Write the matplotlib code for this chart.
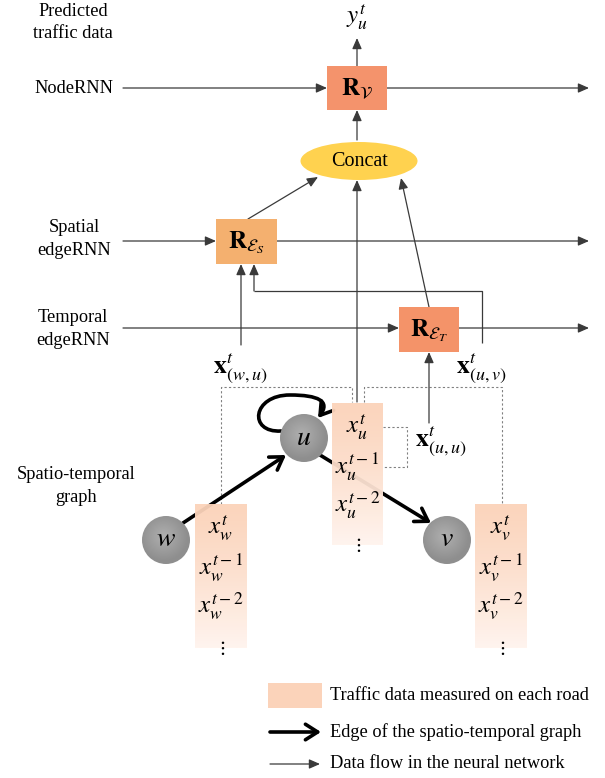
import numpy as np
import matplotlib
matplotlib.use("Agg")
import matplotlib.pyplot as plt
from matplotlib.patches import Rectangle, Ellipse, Circle, FancyArrowPatch
from matplotlib.path import Path

plt.rcParams['font.family'] = ['Liberation Serif', 'DejaVu Serif']
plt.rcParams['mathtext.fontset'] = 'stix'

# ---- content ----
row_labels = [["Predicted", "traffic data"], ["NodeRNN"], ["Spatial", "edgeRNN"],
              ["Temporal", "edgeRNN"], ["Spatio-temporal", "graph"]]
rnn_labels = [r"$\mathbf{R}_{\mathcal{V}}$", r"$\mathbf{R}_{\mathcal{E}_S}$", r"$\mathbf{R}_{\mathcal{E}_T}$"]
concat_label = "Concat"
output_label = r"$y_u^t$"
node_names = ["w", "u", "v"]
history_terms = ["t", "t-1", "t-2"]
edge_feature_labels = [r"$\mathbf{x}_{(w,u)}^{t}$", r"$\mathbf{x}_{(u,v)}^{t}$", r"$\mathbf{x}_{(u,u)}^{t}$"]
legend_labels = ["Traffic data measured on each road", "Edge of the spatio-temporal graph",
                 "Data flow in the neural network"]

# ---- layout / style ----
W, H = 605, 778
fig = plt.figure(figsize=(W / 100, H / 100), dpi=100)
ax = fig.add_axes([0, 0, 1, 1])
ax.set_xlim(0, W)
ax.set_ylim(H, 0)
ax.axis('off')

LC = '#3a3a3a'
FS = 13.2
c_node = '#F4936C'
c_sp = '#F4B06F'
c_tm = '#F49369'
c_concat = '#FFD24F'
c_data_top = np.array([251, 211, 186]) / 255
c_data_bot = np.array([255, 244, 238]) / 255


def arrow(x0, y0, x1, y1, lw=0.9):
    ax.annotate('', xy=(x1, y1), xytext=(x0, y0),
                arrowprops=dict(arrowstyle='-|>,head_length=0.5,head_width=0.22', lw=lw,
                                color=LC, shrinkA=0, shrinkB=0, mutation_scale=13), zorder=3)


def line(xs, ys, **kw):
    kw.setdefault('color', LC)
    kw.setdefault('lw', 0.9)
    ax.plot(xs, ys, solid_capstyle='butt', **kw)


def dashed(xs, ys):
    ax.plot(xs, ys, color='#808080', lw=0.8, ls=(0, (2, 2)), zorder=1)


def thick(x0, y0, x1, y1):
    ax.annotate('', xy=(x1, y1), xytext=(x0, y0),
                arrowprops=dict(arrowstyle='->,head_length=0.55,head_width=0.35', lw=2.6,
                                color='black', shrinkA=0, shrinkB=0, mutation_scale=16), zorder=2)


# left labels
label_pos = [(73, [11, 33]), (74, [88]), (74, [227, 250]), (73, [317, 340]), (76, [474, 497])]
for lines_, (lx, ys) in zip(row_labels, label_pos):
    for t, y in zip(lines_, ys):
        ax.text(lx, y, t, ha='center', va='center', fontsize=FS)

# rnn boxes
boxes = [(327, 66, 60, 44, c_node), (216, 219, 61, 45, c_sp), (399, 307, 60, 45, c_tm)]
for (bx, by, bw, bh, col), lab in zip(boxes, rnn_labels):
    ax.add_patch(Rectangle((bx, by), bw, bh, facecolor=col, edgecolor='none', zorder=4))
    ax.text(bx + bw / 2, by + bh / 2 + 1, lab, ha='center', va='center', fontsize=18, zorder=5)

# row lines
arrow(123, 88, 327, 88)
arrow(387, 88, 589, 88)
arrow(123, 241, 216, 241)
arrow(277, 241, 589, 241)
arrow(123, 328, 399, 328)
arrow(459, 328, 589, 328)

# output
arrow(357, 66, 357, 38)
ax.text(357, 17, output_label, ha='center', va='center', fontsize=18)

# concat
ax.add_patch(Ellipse((359, 161), 117, 38, facecolor=c_concat, edgecolor='none', zorder=4))
ax.text(359, 161, concat_label, ha='center', va='center', fontsize=14.5, zorder=5)
arrow(357, 140, 357, 110)
arrow(357, 402, 357, 180)
arrow(248, 219, 318, 177)
arrow(429, 307, 401, 178)

# edge feature inputs
arrow(241, 345, 241, 264)
line([482, 482, 254], [343, 291, 291])
arrow(254, 291, 254, 264)
arrow(429, 423, 429, 352)
ax.text(240, 368, edge_feature_labels[0], ha='center', va='center', fontsize=18.5)
ax.text(481, 368, edge_feature_labels[1], ha='center', va='center', fontsize=18.5)
ax.text(441, 441, edge_feature_labels[2], ha='center', va='center', fontsize=18.5)

# dashed connectors
dashed([221, 221, 352, 352], [504, 387, 387, 402])
dashed([364, 364, 502, 502], [402, 387, 387, 504])
dashed([383, 407, 407, 383], [427, 427, 467, 467])

# graph edges
thick(183, 523, 286, 455)
thick(320, 455, 431, 523)
loop = Path([(281, 431), (248, 433), (252, 395), (290, 395), (318, 395), (331, 401), (318, 418)],
            [Path.MOVETO, Path.CURVE4, Path.CURVE4, Path.CURVE4, Path.CURVE4, Path.CURVE4, Path.CURVE4])
ax.add_patch(FancyArrowPatch(path=loop, arrowstyle='->,head_length=0.55,head_width=0.35',
                             lw=2.6, color='black', mutation_scale=16, zorder=2))

# nodes (radial gradient)
node_pos = [(166, 540), (304, 438), (447, 540)]
R = 24
yy, xx = np.mgrid[-1:1:100j, -1:1:100j]
rr = np.clip(np.sqrt((xx + 0.1) ** 2 + (yy + 0.15) ** 2), 0, 1)
g = (0.69 - 0.13 * rr)
gimg = np.dstack([g, g, g])
for (nx, ny), name in zip(node_pos, node_names):
    circ = Circle((nx, ny), R, facecolor='none', edgecolor='none', zorder=5)
    ax.add_patch(circ)
    im = ax.imshow(gimg, extent=(nx - R, nx + R, ny + R, ny - R), zorder=5, interpolation='bilinear')
    im.set_clip_path(circ)
    ax.text(nx, ny, f"${name}$", ha='center', va='center', fontsize=20, zorder=6)

# data boxes (vertical gradient)
data_boxes = [(195, 504, 52, 144, 'w'), (332, 403, 51, 142, 'u'), (475, 504, 52, 144, 'v')]
grad = np.linspace(0, 1, 100)[:, None, None] ** 1.3
dimg = c_data_top[None, None, :] * (1 - grad) + c_data_bot[None, None, :] * grad
dimg = np.repeat(dimg, 2, axis=1)
for bx, by, bw, bh, name in data_boxes:
    rect = Rectangle((bx, by), bw, bh, facecolor='none', edgecolor='none', zorder=3)
    ax.add_patch(rect)
    im = ax.imshow(dimg, extent=(bx, bx + bw, by + bh, by), zorder=3, alpha=0.95,
                   interpolation='bilinear', aspect='auto')
    im.set_clip_path(rect)
    cx = bx + bw / 2
    for k, term in enumerate(history_terms):
        ax.text(cx, by + 24 + 39 * k, f"$x_{{{name}}}^{{{term}}}$", ha='center', va='center',
                fontsize=18, zorder=6)
    ax.text(cx, by + bh, r"$\vdots$", ha='center', va='center', fontsize=14, zorder=6)

ax.set_xlim(0, W)
ax.set_ylim(H, 0)

# legend
ax.add_patch(Rectangle((268, 683), 54, 25, facecolor=tuple(c_data_top), edgecolor='none'))
thick(270, 732, 321, 732)
arrow(270, 764, 320, 764)
for t, y in zip(legend_labels, [696, 732, 764]):
    ax.text(330, y, t, ha='left', va='center', fontsize=FS)

fig.savefig('out.png', dpi=100)
